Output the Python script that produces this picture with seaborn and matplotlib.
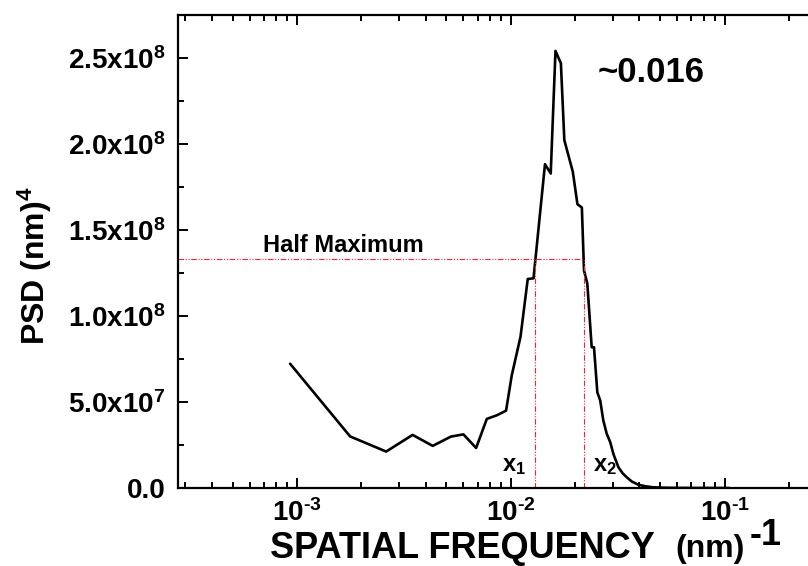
import math
import matplotlib
matplotlib.use("Agg")
import matplotlib.pyplot as plt
from matplotlib.ticker import FixedLocator, FuncFormatter, LogLocator, NullFormatter
import seaborn as sns
import pandas as pd

# Power spectral density vs spatial frequency
freq = [9.27e-4, 1.77e-3, 2.61e-3, 3.47e-3, 4.31e-3, 5.24e-3, 6.0e-3, 6.88e-3,
        7.72e-3, 8.6e-3, 9.5e-3, 1.01e-2, 1.11e-2, 1.2e-2, 1.277e-2, 1.445e-2,
        1.537e-2, 1.618e-2, 1.715e-2, 1.78e-2, 1.95e-2, 2.05e-2, 2.15e-2, 2.2e-2,
        2.28e-2, 2.39e-2, 2.45e-2, 2.54e-2, 2.62e-2, 2.71e-2, 2.81e-2, 2.92e-2,
        3.02e-2, 3.19e-2, 3.34e-2, 3.49e-2, 3.68e-2, 3.95e-2, 4.26e-2, 4.65e-2,
        5.3e-2, 6.2e-2, 7.5e-2, 9.0e-2, 1.05e-1]
psd = [7.23e7, 3.0e7, 2.12e7, 3.09e7, 2.45e7, 2.99e7, 3.12e7, 2.33e7,
       4.02e7, 4.23e7, 4.5e7, 6.55e7, 8.8e7, 1.216e8, 1.22e8, 1.884e8,
       1.83e8, 2.543e8, 2.471e8, 2.024e8, 1.84e8, 1.651e8, 1.632e8, 1.266e8,
       1.189e8, 8.19e7, 8.19e7, 5.57e7, 5.09e7, 3.92e7, 3.16e7, 2.66e7,
       1.98e7, 1.2e7, 8.5e6, 6.2e6, 3.8e6, 1.9e6, 1.0e6, 4.0e5,
       1.5e5, 5.0e4, 2.0e4, 8.0e3, 3.0e3]

half_max = 1.33e8
x1_freq = 1.3e-2
x2_freq = 2.2e-2
peak_label = "~0.016"

y_ticks = [0.0, 5.0e7, 1.0e8, 1.5e8, 2.0e8, 2.5e8]
y_minor = [2.5e7, 7.5e7, 1.25e8, 1.75e8, 2.25e8, 2.75e8]
x_ticks = [1e-3, 1e-2, 1e-1]

sns.set_theme(style="white")
plt.rcParams["font.family"] = ["Liberation Sans", "DejaVu Sans"]
plt.rcParams["font.weight"] = "bold"
plt.rcParams["mathtext.fontset"] = "custom"
plt.rcParams["mathtext.rm"] = "Liberation Sans:bold"
plt.rcParams["mathtext.it"] = "Liberation Sans:bold"
plt.rcParams["mathtext.bf"] = "Liberation Sans:bold"
plt.rcParams["text.color"] = "black"

W, H = 808, 566
fig = plt.figure(figsize=(W / 100, H / 100), dpi=100)
ax = fig.add_axes([178 / W, 78 / H, (831 - 178) / W, (551 - 78) / H])

df = pd.DataFrame({"freq": freq, "psd": psd})
sns.lineplot(data=df, x="freq", y="psd", ax=ax, color="black", lw=1.9,
             sort=False, estimator=None)

ax.set_xscale("log")
ax.set_xlim(2.77e-4, 0.315)
ax.set_ylim(0, 2.752e8)

# half-maximum guide lines
red = "#f0282e"
dash = (0, (5, 1.5, 1, 1.5, 1, 1.5))
ax.plot([2.77e-4, x2_freq], [half_max, half_max], color=red, lw=0.8, ls=dash)
ax.plot([x1_freq, x1_freq], [0, half_max], color=red, lw=0.8, ls=dash)
ax.plot([x2_freq, x2_freq], [0, half_max], color=red, lw=0.8, ls=dash)

ax.text(6.93e-4, 1.371e8, "Half Maximum", fontsize=17, fontweight="bold",
        va="baseline", ha="left")
ax.text(9.1e-3, 1.0e7, r"x$_{1}$", fontsize=17, va="baseline", ha="left")
ax.text(2.43e-2, 1.0e7, r"x$_{2}$", fontsize=17, va="baseline", ha="left")
ax.text(2.535e-2, 2.362e8, peak_label, fontsize=25, fontweight="bold",
        va="baseline", ha="left")


def y_fmt(v, pos):
    if v == 0:
        return "0.0"
    exp = int(math.floor(math.log10(v)))
    return "%.1fx10$^{%d}$" % (v / 10 ** exp, exp)


def x_fmt(v, pos):
    e = int(round(math.log10(v)))
    return r"10$^{\text{-%d}}$" % (-e)


ax.yaxis.set_major_locator(FixedLocator(y_ticks))
ax.yaxis.set_minor_locator(FixedLocator(y_minor))
ax.yaxis.set_major_formatter(FuncFormatter(y_fmt))
ax.xaxis.set_major_locator(FixedLocator(x_ticks))
ax.xaxis.set_minor_locator(LogLocator(base=10, subs=range(2, 10), numticks=20))
ax.xaxis.set_major_formatter(FuncFormatter(x_fmt))
ax.xaxis.set_minor_formatter(NullFormatter())

ax.tick_params(axis="both", which="major", direction="in", length=7.5, width=1.4,
               labelsize=20, colors="black")
ax.tick_params(axis="both", which="minor", direction="in", length=4, width=1.4,
               colors="black")
ax.tick_params(axis="x", which="both", top=True, bottom=True)
ax.tick_params(axis="x", which="major", pad=8)
ax.tick_params(axis="y", which="both", left=True, right=False)
ax.tick_params(axis="y", which="major", pad=9)
for lab in ax.get_xticklabels() + ax.get_yticklabels():
    lab.set_fontweight("bold")

for side in ["left", "bottom", "top"]:
    ax.spines[side].set_linewidth(1.6)
    ax.spines[side].set_color("black")
ax.spines["right"].set_visible(False)

ax.set_xlabel("")
ax.set_ylabel("")

# axis titles
fig.text(35 / W, (H - 266) / H, r"PSD (nm)$^{4}$", rotation=90, fontsize=23,
         fontweight="bold", ha="center", va="center")
fig.text(270 / W, (H - 558) / H, "SPATIAL FREQUENCY", fontsize=26,
         fontweight="bold", ha="left", va="baseline")
fig.text(675 / W, (H - 557) / H, "(nm)", fontsize=23, fontweight="bold",
         ha="left", va="baseline")
fig.text(750 / W, (H - 545) / H, "-1", fontsize=26, fontweight="bold",
         ha="left", va="baseline")

fig.savefig("out.png", dpi=100, facecolor="white")
